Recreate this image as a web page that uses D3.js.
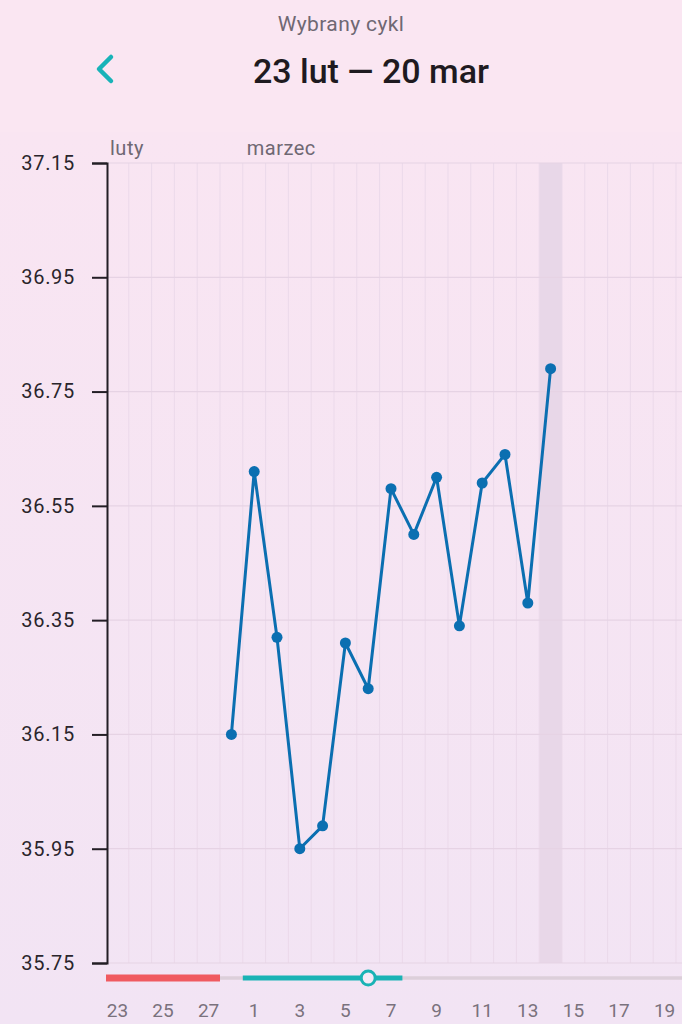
<!DOCTYPE html>
<html>
<head>
<meta charset="utf-8">
<style>
    body { margin: 0; background: #fae6f2; }
    svg { display: block; font-family: Roboto, "Noto Sans", sans-serif; }
</style>
</head>
<body>
<script src="https://d3js.org/d3.v7.min.js"></script>
<script>
    var width = 682, height = 1024;

    // dni cyklu: 23 lut .. 20 mar
    var dayLabels = ["23","24","25","26","27","28","1","2","3","4","5","6","7","8","9","10","11","12","13","14","15","16","17","18","19","20"];
    var months = [{ name: "luty", day: 0 }, { name: "marzec", day: 6 }];
    // temperatura (od 28 lut do 14 mar)
    var tempDays = [5, 6, 7, 8, 9, 10, 11, 12, 13, 14, 15, 16, 17, 18, 19];
    var temps = [36.15, 36.61, 36.32, 35.95, 35.99, 36.31, 36.23, 36.58, 36.50, 36.60, 36.34, 36.59, 36.64, 36.38, 36.79];
    var yTicks = [35.75, 35.95, 36.15, 36.35, 36.55, 36.75, 36.95, 37.15];
    var periodDays = [0, 4];
    var fertileDays = [6, 12];
    var ovulationDay = 11;
    var highlightDay = 19;

    var plotTop = 163, plotBottom = 963, left = 106;
    var dayW = 22.8;

    var svg = d3.select("body").append("svg")
        .attr("width", width)
        .attr("height", height);

    var defs = svg.append("defs");
    var grad = defs.append("linearGradient").attr("id", "bg").attr("x1", 0).attr("y1", 0).attr("x2", 0).attr("y2", 1);
    grad.append("stop").attr("offset", 0).attr("stop-color", "#f9e5f2");
    grad.append("stop").attr("offset", 1).attr("stop-color", "#f2e4f4");

    svg.append("rect").attr("width", width).attr("height", 132).attr("fill", "#fae6f2");
    svg.append("rect").attr("y", 132).attr("width", width).attr("height", height - 132).attr("fill", "url(#bg)");

    // naglowek
    svg.append("text")
        .attr("x", 341).attr("y", 31)
        .attr("text-anchor", "middle")
        .attr("font-size", 21)
        .attr("letter-spacing", 0.4)
        .attr("fill", "#6f6873")
        .text("Wybrany cykl");

    svg.append("text")
        .attr("x", 371).attr("y", 83)
        .attr("text-anchor", "middle")
        .attr("font-size", 34)
        .attr("font-weight", 500)
        .attr("fill", "#1e1a20")
        .text("23 lut — 20 mar");

    svg.append("path")
        .attr("d", "M111,57 L99,69 L111,81")
        .attr("fill", "none")
        .attr("stroke", "#18b3b8")
        .attr("stroke-width", 4.5)
        .attr("stroke-linecap", "round")
        .attr("stroke-linejoin", "round");

    var x = d3.scaleBand()
        .domain(d3.range(dayLabels.length))
        .range([left, left + dayLabels.length * dayW])
        .padding(0);

    var y = d3.scaleLinear()
        .domain([35.75, 37.15])
        .range([plotBottom, plotTop]);

    // podswietlony dzien
    svg.append("rect")
        .attr("x", x(highlightDay))
        .attr("y", plotTop)
        .attr("width", x.bandwidth())
        .attr("height", plotBottom - plotTop)
        .attr("fill", "#e8d7e8");

    // siatka pionowa
    svg.append("g").selectAll("line")
        .data(d3.range(1, dayLabels.length + 1))
        .enter().append("line")
        .attr("x1", function (d) { return x(0) + d * x.step(); })
        .attr("x2", function (d) { return x(0) + d * x.step(); })
        .attr("y1", plotTop)
        .attr("y2", plotBottom)
        .attr("stroke", "#ebd9ea")
        .attr("stroke-width", 1);

    // siatka pozioma
    svg.append("g").selectAll("line")
        .data(yTicks)
        .enter().append("line")
        .attr("x1", left)
        .attr("x2", width)
        .attr("y1", function (d) { return y(d); })
        .attr("y2", function (d) { return y(d); })
        .attr("stroke", "#e6d3e4")
        .attr("stroke-width", 1.2);

    // os Y
    var yAxis = d3.axisLeft(y)
        .tickValues(yTicks)
        .tickSize(15)
        .tickPadding(17)
        .tickFormat(d3.format(".2f"));

    var gy = svg.append("g")
        .attr("transform", "translate(" + (left + 1) + ",0)")
        .call(yAxis);
    gy.select(".domain").attr("stroke", "#231e25").attr("stroke-width", 2);
    gy.selectAll(".tick line").attr("stroke", "#231e25").attr("stroke-width", 2);
    gy.selectAll(".tick text")
        .attr("font-size", 20)
        .attr("font-family", "Roboto, sans-serif")
        .attr("letter-spacing", 0.7)
        .attr("fill", "#2a252c");

    // nazwy miesiecy
    svg.append("g").selectAll("text")
        .data(months)
        .enter().append("text")
        .attr("x", function (d) { return x(d.day) + 4; })
        .attr("y", 155)
        .attr("font-size", 20)
        .attr("letter-spacing", 0.5)
        .attr("fill", "#6f6873")
        .text(function (d) { return d.name; });

    // paski faz cyklu
    var barY = 978;
    svg.append("line")
        .attr("x1", x(0)).attr("x2", width)
        .attr("y1", barY).attr("y2", barY)
        .attr("stroke", "#dccfda").attr("stroke-width", 3.5);

    svg.append("line")
        .attr("x1", x(periodDays[0])).attr("x2", x(periodDays[1]) + x.bandwidth())
        .attr("y1", barY).attr("y2", barY)
        .attr("stroke", "#f05a60").attr("stroke-width", 7);

    svg.append("line")
        .attr("x1", x(fertileDays[0])).attr("x2", x(fertileDays[1]) + x.bandwidth())
        .attr("y1", barY).attr("y2", barY)
        .attr("stroke", "#1ab3b5").attr("stroke-width", 5);

    svg.append("circle")
        .attr("cx", x(ovulationDay) + x.bandwidth() / 2)
        .attr("cy", barY)
        .attr("r", 7)
        .attr("fill", "#f6eaf6")
        .attr("stroke", "#1ab3b5")
        .attr("stroke-width", 3);

    // etykiety dni
    svg.append("g").selectAll("text")
        .data(d3.range(0, dayLabels.length, 2))
        .enter().append("text")
        .attr("x", function (d) { return x(d) + x.bandwidth() / 2; })
        .attr("y", 1017)
        .attr("text-anchor", "middle")
        .attr("font-size", 19)
        .attr("fill", "#7a727d")
        .text(function (d) { return dayLabels[d]; });

    // linia temperatury
    var pts = tempDays.map(function (d, i) { return [x(d) + x.bandwidth() / 2, y(temps[i])]; });

    svg.append("path")
        .datum(pts)
        .attr("d", d3.line())
        .attr("fill", "none")
        .attr("stroke", "#0b6fb1")
        .attr("stroke-width", 3)
        .attr("stroke-linejoin", "round");

    svg.append("g").selectAll("circle")
        .data(pts)
        .enter().append("circle")
        .attr("cx", function (d) { return d[0]; })
        .attr("cy", function (d) { return d[1]; })
        .attr("r", 5.5)
        .attr("fill", "#0b6fb1");
</script>
</body>
</html>
